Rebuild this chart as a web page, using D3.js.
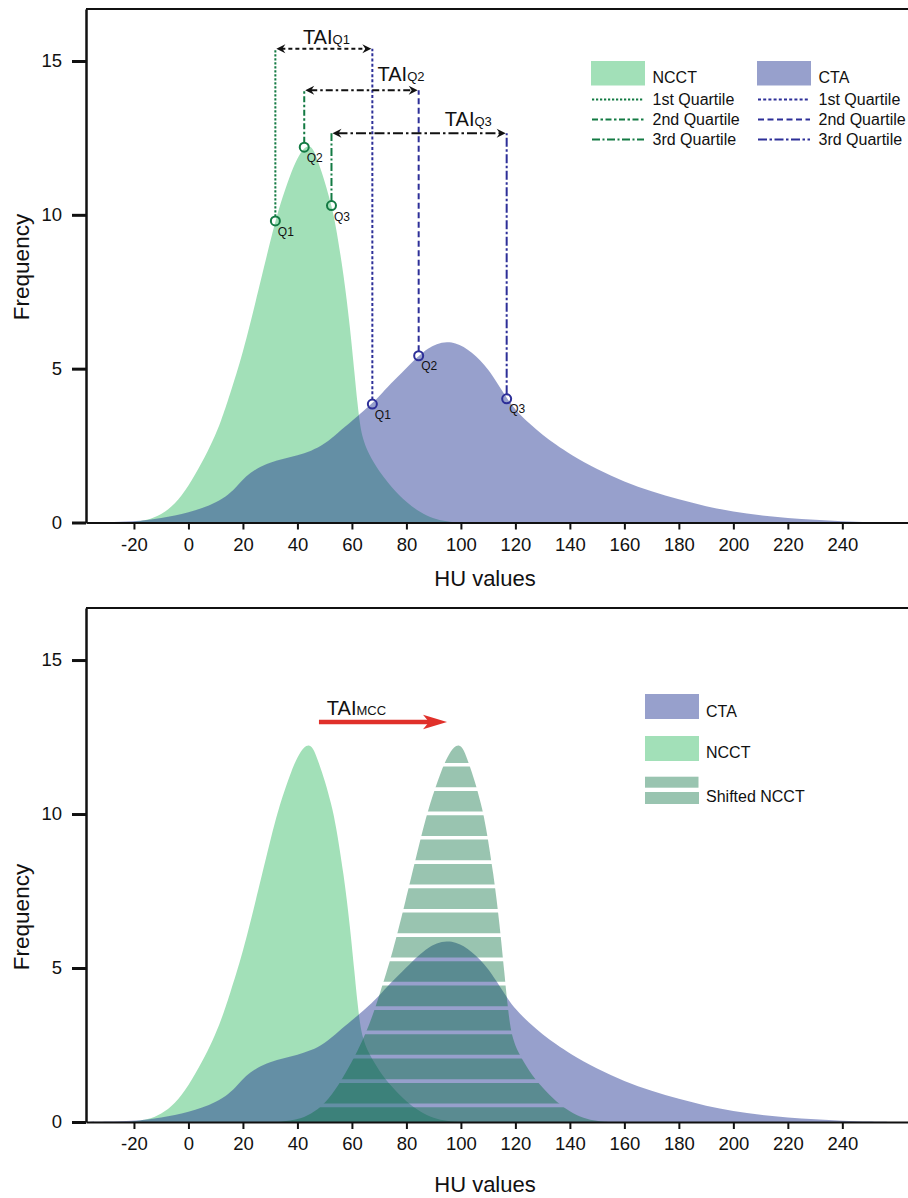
<!DOCTYPE html>
<html><head><meta charset="utf-8">
<script src="https://cdn.jsdelivr.net/npm/d3@7"></script>
<style>
body{margin:0;background:#fff}
svg{display:block}
text{font-family:"Liberation Sans",Arial,Helvetica,sans-serif;fill:#111}
</style>
</head><body>
<svg id="chart" width="908" height="1198"></svg>
<script>
// ---------------- DATA ----------------
const xTicks = [-20,0,20,40,60,80,100,120,140,160,180,200,220,240];
const yTicks = [0,5,10,15];

const ncctHU   = [-22,-15,-10,-5,0,5,9,12,15,20,25,28,32,35,38,40,42.5,44.5,46,48,50,52.5,54,57,59.3,61,62,63,64,66,70,75,80,85,90,95,99];
const ncctFreq = [0,0.07,0.25,0.58,1.17,1.95,2.66,3.3,4.1,5.5,7.3,8.4,9.85,10.7,11.45,11.85,12.2,12.25,12.12,11.62,11.1,10.3,9.7,8.05,6.35,4.8,3.9,3.15,2.72,2.25,1.65,1.1,0.65,0.33,0.12,0.03,0];

const ctaHU   = [-37.6,-30,-20,-15,-10,-5,0,5,10,15,18,21,25,30,35,40,45,50,55,60,63,67.5,70,74,80,84.5,88,91,95,98,101,104,107,110,113,116.8,120,125,130,135,140,150,160,170,180,190,200,210,220,230,240,250,258];
const ctaFreq = [0,0.01,0.04,0.08,0.14,0.22,0.33,0.46,0.64,0.92,1.2,1.5,1.76,1.95,2.07,2.18,2.32,2.55,2.93,3.3,3.53,3.88,4.1,4.5,5.02,5.42,5.66,5.81,5.88,5.83,5.72,5.52,5.28,4.98,4.58,4.05,3.66,3.22,2.84,2.52,2.22,1.72,1.32,1.0,0.75,0.52,0.35,0.23,0.145,0.085,0.04,0.012,0];

const quartileNames   = ["Q1","Q2","Q3"];
const ncctQuartileHU   = [31.9, 42.5, 52.5];
const ncctQuartileFreq = [9.8, 12.2, 10.3];
const ctaQuartileHU    = [67.5, 84.5, 116.8];
const ctaQuartileFreq  = [3.85, 5.42, 4.02];
const taiLevels        = [15.4, 14.05, 12.65];
const taiLabelHU       = [42, 69.4, 94.1];

const legendQuartiles = ["1st Quartile","2nd Quartile","3rd Quartile"];
const mccShift = 55;           // HU shift of NCCT (TAI_MCC)
const mccArrowHU = [47.9, 94.9];
const mccArrowFreq = 12.99;

// ---------------- STYLE ----------------
const GREEN_FILL = "#a2e0b8";
const BLUE_FILL  = "rgba(29,48,144,0.46)";
const SHIFT_FILL = "rgba(0,107,57,0.40)";
const GREEN_LINE = "#137a43";
const BLUE_LINE  = "#2d2f98";
const ncctDash = ["2.2,1.8","6,2.5,2.5,2.5","8,2.5,2,2.5"];
const ctaDash  = ["3,2.2","6,3.5","9,2.5,2.5,2.5"];
const taiDash  = ["4,3","7,3,2.5,3","10,3,2.5,3"];

const svg = d3.select("#chart");
const x = d3.scaleLinear().domain([-37.6, 264.1]).range([86, 908]);

const ncct = ncctHU.map((h,i)=>[h, ncctFreq[i]]);
const cta  = ctaHU.map((h,i)=>[h, ctaFreq[i]]);
const shifted = ncctHU.map((h,i)=>[h + mccShift, ncctFreq[i]]);

function makePanel(top, bottom){
  const y = d3.scaleLinear().domain([0, 16.69]).range([bottom, top]);
  const g = svg.append("g");
  return {y, g};
}

function drawAxes(p, top, bottom, xLabelY, freqY){
  const {y, g} = p;
  g.append("line").attr("x1",86).attr("x2",908).attr("y1",top).attr("y2",top)
    .attr("stroke","#111").attr("stroke-width",2);
  const xa = g.append("g").attr("transform",`translate(0,${y(0)})`)
    .call(d3.axisBottom(x).tickValues(xTicks).tickFormat(d=>String(d)).tickSize(7).tickSizeOuter(0).tickPadding(8));
  xa.select(".domain").attr("stroke","#111").attr("stroke-width",2);
  xa.selectAll(".tick line").attr("stroke","#111").attr("stroke-width",2);
  xa.selectAll(".tick text").attr("font-size",18.5).attr("fill","#111")
    .attr("font-family",'"Liberation Sans",Arial,sans-serif').attr("dy","0.72em");
  const ya = g.append("g").attr("transform","translate(86,0)")
    .call(d3.axisLeft(y).tickValues(yTicks).tickFormat(d=>String(d)).tickSize(14).tickSizeOuter(0).tickPadding(10));
  ya.select(".domain").attr("stroke","#111").attr("stroke-width",2.5);
  ya.selectAll(".tick line").attr("stroke","#111").attr("stroke-width",3);
  ya.selectAll(".tick text").attr("font-size",18.5).attr("fill","#111")
    .attr("font-family",'"Liberation Sans",Arial,sans-serif');
  g.append("text").attr("x",485).attr("y",xLabelY).attr("text-anchor","middle")
    .attr("font-size",22).text("HU values");
  g.append("text").attr("transform",`translate(29,${freqY}) rotate(-90)`)
    .attr("text-anchor","middle").attr("font-size",22.5).text("Frequency");
}

function areaGen(y){
  return d3.area().x(d=>x(d[0])).y0(y(0)).y1(d=>y(d[1])).curve(d3.curveBasis);
}

function arrowHead(g, tipX, tipY, dir, len, half, notch, fill){
  const b = tipX - dir*len, n = tipX - dir*(len-notch);
  g.append("path")
    .attr("d",`M${tipX},${tipY}L${b},${tipY-half}L${n},${tipY}L${b},${tipY+half}Z`)
    .attr("fill",fill);
}

// ================= TOP PANEL =================
const P1 = makePanel(9, 522.5);
{
  const {y, g} = P1;
  const area = areaGen(y);
  g.append("path").datum(ncct).attr("d",area).attr("fill",GREEN_FILL);
  g.append("path").datum(cta).attr("d",area).attr("fill",BLUE_FILL);

  const r = 4.5;
  quartileNames.forEach((q,i)=>{
    const yl = y(taiLevels[i]);
    g.append("line").attr("x1",x(ncctQuartileHU[i])).attr("x2",x(ncctQuartileHU[i]))
      .attr("y1",y(ncctQuartileFreq[i])-r).attr("y2",yl)
      .attr("stroke",GREEN_LINE).attr("stroke-width",2).attr("stroke-dasharray",ncctDash[i]);
    g.append("line").attr("x1",x(ctaQuartileHU[i])).attr("x2",x(ctaQuartileHU[i]))
      .attr("y1",y(ctaQuartileFreq[i])-r).attr("y2",yl)
      .attr("stroke",BLUE_LINE).attr("stroke-width",2).attr("stroke-dasharray",ctaDash[i]);
    const xa = x(ncctQuartileHU[i]), xb = x(ctaQuartileHU[i]);
    g.append("line").attr("x1",xa+6).attr("x2",xb-6).attr("y1",yl).attr("y2",yl)
      .attr("stroke","#111").attr("stroke-width",2).attr("stroke-dasharray",taiDash[i]);
    arrowHead(g, xa+1, yl, -1, 9, 4.5, 3, "#111");
    arrowHead(g, xb-1, yl, 1, 9, 4.5, 3, "#111");
    const t = g.append("text").attr("x",x(taiLabelHU[i])).attr("y",yl-[5,9,7][i]).attr("font-size",20);
    t.append("tspan").text("TAI");
    t.append("tspan").attr("font-size",13).text(q);
    g.append("circle").attr("cx",x(ncctQuartileHU[i])).attr("cy",y(ncctQuartileFreq[i])).attr("r",r)
      .attr("fill","none").attr("stroke",GREEN_LINE).attr("stroke-width",2);
    g.append("circle").attr("cx",x(ctaQuartileHU[i])).attr("cy",y(ctaQuartileFreq[i])).attr("r",r)
      .attr("fill","none").attr("stroke",BLUE_LINE).attr("stroke-width",2);
    g.append("text").attr("x",x(ncctQuartileHU[i])+2.5).attr("y",y(ncctQuartileFreq[i])+15)
      .attr("font-size",12).text(q);
    g.append("text").attr("x",x(ctaQuartileHU[i])+2.5).attr("y",y(ctaQuartileFreq[i])+14.5)
      .attr("font-size",12).text(q);
  });

  const L = g.append("g");
  const cols = [{x:591, name:"NCCT", fill:GREEN_FILL, col:GREEN_LINE, dash:ncctDash},
                {x:757, name:"CTA",  fill:BLUE_FILL,  col:BLUE_LINE,  dash:ctaDash}];
  cols.forEach(c=>{
    L.append("rect").attr("x",c.x).attr("y",61).attr("width",54).attr("height",24.5).attr("fill",c.fill);
    L.append("text").attr("x",c.x+61.5).attr("y",83.3).attr("font-size",16).text(c.name);
    legendQuartiles.forEach((lab,i)=>{
      const ly = 99.5 + i*20;
      L.append("line").attr("x1",c.x+1).attr("x2",c.x+53).attr("y1",ly).attr("y2",ly)
        .attr("stroke",c.col).attr("stroke-width",2).attr("stroke-dasharray",c.dash[i]);
      L.append("text").attr("x",c.x+61.5).attr("y",ly+5.5).attr("font-size",16).text(lab);
    });
  });
}
drawAxes(P1, 9, 522.5, 586, 267);

// ================= BOTTOM PANEL =================
const P2 = makePanel(608, 1122);
{
  const {y, g} = P2;
  const area = areaGen(y);
  g.append("path").datum(ncct).attr("d",area).attr("fill",GREEN_FILL);
  g.append("path").datum(cta).attr("d",area).attr("fill",BLUE_FILL);

  const stripeStart = 0.54, stripeStep = 0.79, gapHalf = 1.85;
  const gaps = d3.range(15).map(k=>y(stripeStart + k*stripeStep));
  const clip = svg.append("defs").append("clipPath").attr("id","stripes");
  let prev = y(0) + 2;
  gaps.forEach(gy=>{
    clip.append("rect").attr("x",0).attr("width",908).attr("y",gy+gapHalf).attr("height",prev-(gy+gapHalf));
    prev = gy - gapHalf;
  });
  clip.append("rect").attr("x",0).attr("width",908).attr("y",y(16.69)).attr("height",prev-y(16.69));
  g.append("path").datum(shifted).attr("d",area).attr("fill",SHIFT_FILL).attr("clip-path","url(#stripes)");

  const ay = y(mccArrowFreq);
  const x0 = x(mccArrowHU[0]), x1 = x(mccArrowHU[1]);
  g.append("line").attr("x1",x0).attr("x2",x1-18).attr("y1",ay).attr("y2",ay)
    .attr("stroke","#e0302a").attr("stroke-width",4.6);
  arrowHead(g, x1, ay, 1, 24, 7.3, 6, "#e0302a");
  const t = g.append("text").attr("x",x(50.8)).attr("y",ay-7).attr("font-size",20);
  t.append("tspan").text("TAI");
  t.append("tspan").attr("font-size",13).text("MCC");

  const L = g.append("g");
  L.append("rect").attr("x",645).attr("y",694).attr("width",54).attr("height",25).attr("fill",BLUE_FILL);
  L.append("text").attr("x",706).attr("y",716.7).attr("font-size",16).text("CTA");
  L.append("rect").attr("x",645).attr("y",736).attr("width",54).attr("height",25).attr("fill",GREEN_FILL);
  L.append("text").attr("x",706).attr("y",758.3).attr("font-size",16).text("NCCT");
  L.append("rect").attr("x",645).attr("y",776.7).attr("width",53.5).attr("height",11).attr("fill",SHIFT_FILL);
  L.append("rect").attr("x",645).attr("y",792).attr("width",54).attr("height",12).attr("fill",SHIFT_FILL);
  L.append("text").attr("x",706).attr("y",801.7).attr("font-size",16).text("Shifted NCCT");
}
drawAxes(P2, 608, 1122, 1192, 917);
</script>
</body></html>
